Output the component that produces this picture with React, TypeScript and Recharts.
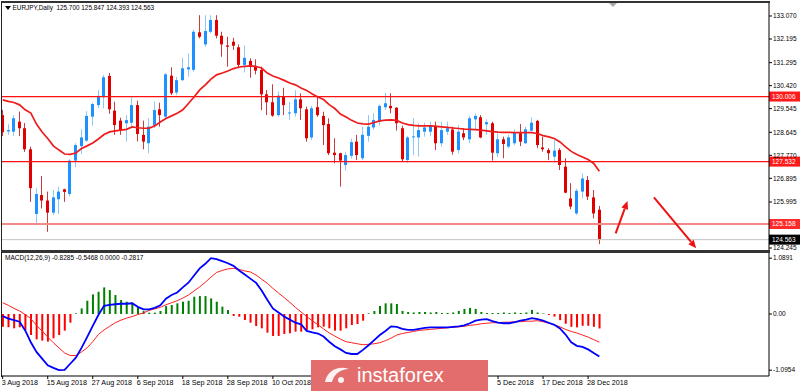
import React from 'react';
import { ComposedChart, Bar, Line, XAxis, YAxis, ReferenceLine, Cell } from 'recharts';

// ---------- DATA ----------
const opens = [129.30,128.68,128.67,129.05,128.80,128.00,125.54,126.26,126.05,125.59,126.10,126.48,126.30,127.57,128.12,128.33,129.24,129.68,129.98,130.79,129.47,129.09,128.99,129.01,129.68,128.55,128.23,128.92,129.52,129.24,130.80,130.16,130.63,131.04,131.02,132.45,131.99,132.47,132.92,132.32,131.95,132.09,131.88,131.21,131.36,131.14,131.02,130.09,129.79,129.30,130.00,129.38,129.37,129.90,129.52,128.45,129.60,129.27,128.96,127.87,127.85,127.40,127.75,128.29,127.66,128.51,128.83,129.05,129.60,129.65,129.58,128.80,127.59,128.47,128.45,128.67,128.67,128.89,128.23,128.67,128.75,127.97,128.61,128.38,129.14,129.22,128.95,128.99,127.85,128.38,128.10,128.23,128.61,128.23,128.71,129.08,128.07,127.97,127.72,127.97,127.34,126.13,125.56,126.39,126.83,126.17,125.700];
const highs = [129.50,128.95,129.30,129.43,129.00,128.10,126.52,126.98,126.39,126.45,126.58,126.50,127.62,128.23,128.76,129.45,129.77,130.25,130.83,130.90,129.81,129.20,129.30,129.98,129.85,129.09,129.18,129.81,129.77,130.90,131.12,130.75,131.48,131.65,132.55,133.10,133.10,133.10,133.10,132.47,132.28,132.24,131.99,131.95,131.46,131.42,131.14,130.25,130.47,130.20,130.34,129.81,130.25,130.13,129.62,129.65,130.03,129.43,129.18,128.42,127.87,127.91,128.40,128.55,128.86,129.30,129.37,129.70,130.15,130.13,129.60,128.90,128.51,129.18,128.99,129.01,129.05,129.05,129.05,129.05,128.86,128.92,128.80,129.27,129.35,129.30,129.14,129.05,128.60,128.48,128.55,128.76,128.96,128.86,129.22,129.12,128.48,128.04,128.35,128.04,127.66,126.71,126.50,127.08,126.98,126.45,125.847];
const lows = [128.50,128.55,128.50,128.50,127.90,126.00,125.12,125.75,124.86,125.50,125.54,126.00,126.20,127.32,127.82,128.28,128.90,129.56,129.56,129.35,128.55,128.55,128.29,128.86,128.30,128.00,127.85,128.80,128.86,129.20,130.06,130.06,130.60,130.76,130.95,132.22,131.90,132.40,132.22,131.52,131.14,131.78,131.08,130.92,130.72,130.85,129.49,129.30,129.24,129.24,129.30,129.11,129.24,129.11,128.29,128.35,129.24,128.16,127.78,127.47,126.58,127.19,127.65,127.59,127.59,128.29,128.75,128.90,129.49,129.37,128.71,127.55,127.49,127.78,127.72,128.48,128.50,127.97,128.10,128.55,127.80,127.85,128.35,128.23,128.73,128.42,128.55,127.57,127.70,127.66,128.04,128.16,128.12,128.20,128.67,128.04,127.91,127.59,127.49,127.21,126.33,125.72,125.50,126.13,126.07,125.37,124.393];
const closes = [128.65,128.73,129.18,128.80,128.00,126.52,126.30,126.05,125.59,126.17,126.39,126.38,127.57,128.16,128.45,129.27,129.72,130.03,130.74,129.52,128.92,128.71,129.11,129.68,128.58,128.29,128.86,129.49,129.30,130.85,130.13,130.63,131.08,131.12,132.47,132.28,132.50,132.92,132.32,131.99,131.90,131.94,131.21,131.48,131.14,130.99,130.09,129.79,129.28,130.04,129.68,129.40,129.90,129.56,128.42,129.56,129.30,128.92,127.85,127.78,127.57,127.78,128.27,127.78,128.55,128.86,129.11,129.65,129.75,129.56,128.99,127.62,128.45,128.49,128.73,128.83,128.92,128.23,128.73,128.80,127.91,128.67,128.45,129.18,129.27,128.45,129.03,127.87,128.38,128.20,128.45,128.63,128.29,128.76,129.01,128.16,128.00,127.85,127.95,127.40,126.35,125.82,126.42,126.89,126.20,125.56,124.563];
const maValues = [129.88,129.82,129.78,129.69,129.50,129.38,128.96,128.66,128.41,128.13,127.97,127.82,127.81,127.86,128.03,128.13,128.24,128.39,128.56,128.66,128.70,128.73,128.76,128.85,128.82,128.80,128.80,128.89,129.04,129.17,129.27,129.37,129.50,129.74,129.99,130.26,130.45,130.67,130.83,130.90,130.98,131.07,131.13,131.15,131.17,131.15,131.09,130.90,130.79,130.71,130.62,130.52,130.45,130.33,130.24,130.10,129.99,129.89,129.70,129.55,129.34,129.23,129.10,129.00,128.97,128.96,129.02,129.08,129.11,129.12,129.10,129.00,128.94,128.91,128.89,128.89,128.89,128.87,128.85,128.83,128.81,128.79,128.77,128.76,128.75,128.73,128.70,128.67,128.65,128.64,128.64,128.63,128.63,128.63,128.63,128.60,128.52,128.47,128.41,128.28,128.09,127.92,127.80,127.71,127.61,127.46,127.16];
const macdMain = [-0.04,-0.09,-0.12,-0.15,-0.32,-0.55,-0.74,-0.87,-1.00,-1.05,-1.0954,-1.09,-0.97,-0.85,-0.66,-0.45,-0.23,-0.02,0.16,0.18,0.19,0.20,0.20,0.21,0.14,0.09,0.09,0.12,0.17,0.30,0.37,0.42,0.52,0.61,0.75,0.89,0.98,1.0891,1.07,1.03,0.99,0.94,0.85,0.77,0.69,0.61,0.46,0.28,0.11,0.03,-0.05,-0.11,-0.17,-0.20,-0.33,-0.36,-0.38,-0.44,-0.54,-0.63,-0.69,-0.76,-0.78,-0.78,-0.70,-0.61,-0.51,-0.41,-0.33,-0.24,-0.25,-0.29,-0.31,-0.31,-0.29,-0.27,-0.26,-0.26,-0.26,-0.26,-0.25,-0.24,-0.22,-0.18,-0.13,-0.11,-0.10,-0.14,-0.17,-0.18,-0.18,-0.16,-0.13,-0.11,-0.08,-0.10,-0.13,-0.17,-0.21,-0.28,-0.40,-0.55,-0.62,-0.64,-0.69,-0.76,-0.8285];
const macdSignal = [0.22,0.17,0.11,0.06,-0.01,-0.09,-0.22,-0.33,-0.45,-0.56,-0.66,-0.76,-0.81,-0.81,-0.74,-0.66,-0.54,-0.40,-0.31,-0.24,-0.17,-0.12,-0.08,-0.05,-0.01,0.02,0.07,0.10,0.13,0.18,0.22,0.26,0.31,0.37,0.45,0.53,0.62,0.72,0.81,0.85,0.88,0.89,0.87,0.84,0.82,0.76,0.68,0.60,0.50,0.41,0.32,0.23,0.13,0.04,-0.05,-0.13,-0.21,-0.29,-0.37,-0.43,-0.49,-0.54,-0.56,-0.58,-0.60,-0.59,-0.58,-0.56,-0.52,-0.47,-0.41,-0.38,-0.36,-0.34,-0.32,-0.31,-0.30,-0.29,-0.28,-0.27,-0.26,-0.25,-0.24,-0.22,-0.21,-0.19,-0.18,-0.17,-0.17,-0.16,-0.16,-0.15,-0.15,-0.14,-0.14,-0.13,-0.15,-0.18,-0.21,-0.25,-0.30,-0.34,-0.37,-0.41,-0.45,-0.50,-0.5468];
const macdHist = [-0.246,-0.259,-0.279,-0.259,-0.311,-0.409,-0.493,-0.519,-0.538,-0.473,-0.409,-0.324,-0.169,0.013,0.110,0.259,0.383,0.434,0.519,0.467,0.370,0.272,0.240,0.220,0.130,0.058,0.026,0.026,0.058,0.156,0.175,0.208,0.240,0.259,0.337,0.350,0.350,0.305,0.240,0.143,0.078,-0.039,-0.052,-0.117,-0.169,-0.233,-0.279,-0.363,-0.428,-0.428,-0.389,-0.376,-0.344,-0.344,-0.311,-0.298,-0.259,-0.246,-0.279,-0.324,-0.324,-0.279,-0.214,-0.195,-0.130,0.013,0.058,0.156,0.208,0.208,0.195,0.06,0.04,0.03,0.04,0.04,0.03,0.04,0.02,0.02,0.03,0.06,0.10,0.12,0.10,0.04,0.02,0.02,0.02,0.03,0.02,0.03,0.02,0.03,0.08,0.03,0.01,-0.02,-0.05,-0.12,-0.19,-0.25,-0.26,-0.23,-0.23,-0.25,-0.2817];

const dateTickIndex = [0, 8, 16, 24, 32, 40, 48, 56, 64, 72, 80, 88, 96, 104];
// labels hidden behind the watermark in the reference are left empty
const dateTickLabels = ['3 Aug 2018','15 Aug 2018','27 Aug 2018','6 Sep 2018','18 Sep 2018','28 Sep 2018','10 Oct 2018','','','','','5 Dec 2018','17 Dec 2018','28 Dec 2018'];
const priceTicks = [133.070, 132.195, 131.295, 130.420, 129.545, 128.645, 127.770, 126.895, 125.995, 124.245];
const levelPrices = [130.006, 127.532];
const supportPrice = 125.158;
const lastPrice = 124.563;
const macdTicks = [1.0891, 0, -1.0954];
const macdTickLabels = ['1.0891', '0.00', '-1.0954'];
// arrows: [fromIndex, fromPrice, toIndex, toPrice]
const arrowSegments = [[108.9, 124.80, 111.0, 126.03], [115.7, 126.17, 123.2, 124.24]];
const headerText = 'EURJPY,Daily  125.700 125.847 124.393 124.563';
const macdText = 'MACD(12,26,9) -0.8285 -0.5468 0.0000 -0.2817';
const watermarkText = 'instaforex';

// ---------- tables ----------
const candleData = opens.map((o, i) => ({
  idx: i, open: o, high: highs[i], low: lows[i], close: closes[i],
  range: [lows[i], highs[i]], ma: maValues[i],
}));
const macdData = macdMain.map((m, i) => ({ idx: i, main: m, signal: macdSignal[i], hist: macdHist[i] }));

const X_DOMAIN: [number, number] = [-0.124, 136.14];
const FONT = 'Liberation Sans, Arial, sans-serif';
const BULL_BODY = '#1e90ff';
const BULL_WICK = '#8cc8f8';
const BEAR_BODY = '#e00000';
const BEAR_WICK = '#c83c3c';

const Candle = (props: any) => {
  const { x, y, width, height, payload } = props;
  if (payload == null || height == null) return null;
  const { open, close, high, low } = payload;
  const span = high - low || 1;
  const py = (p: number) => y + ((high - p) / span) * height;
  const bull = close >= open;
  const c = Math.floor(x + width / 2);
  const top = py(Math.max(open, close));
  const bot = py(Math.min(open, close));
  return (
    <g>
      <line x1={c + 0.5} x2={c + 0.5} y1={y} y2={y + height} stroke={bull ? BULL_WICK : BEAR_WICK} strokeWidth={1} />
      <rect x={c - 1} y={top} width={3} height={Math.max(1, bot - top)} fill={bull ? BULL_BODY : BEAR_BODY} />
    </g>
  );
};

const PriceTag = (props: any) => {
  const { viewBox, text, bg } = props;
  if (!viewBox) return null;
  const { x, y, width } = viewBox;
  const left = x + width;
  return (
    <g>
      <rect x={left} y={y - 5} width={31} height={10} fill={bg} />
      <text x={left + 3} y={y + 2.4} fill="#fff" fontSize={6.5} fontFamily={FONT}>{text}</text>
    </g>
  );
};

const Arrow = (props: any) => {
  const { x1, y1, x2, y2 } = props;
  if ([x1, y1, x2, y2].some((v) => v == null || isNaN(v))) return null;
  const ang = Math.atan2(y2 - y1, x2 - x1);
  const L = 8, W = 3.5;
  const bx = x2 - L * Math.cos(ang), by = y2 - L * Math.sin(ang);
  const p1 = `${bx + W * Math.sin(ang)},${by - W * Math.cos(ang)}`;
  const p2 = `${bx - W * Math.sin(ang)},${by + W * Math.cos(ang)}`;
  return (
    <g>
      <line x1={x1} y1={y1} x2={bx} y2={by} stroke="#ee1111" strokeWidth={2} />
      <polygon points={`${x2},${y2} ${p1} ${p2}`} fill="#ee1111" />
    </g>
  );
};

const DateTick = (props: any) => {
  const { x, y, payload } = props;
  const k = dateTickIndex.indexOf(payload.value);
  const label = k >= 0 ? dateTickLabels[k] : '';
  if (!label) return null;
  return (
    <text x={x - 1} y={y + 6} textAnchor="start" fontSize={7.2} fontFamily={FONT} fill="#000">
      {label}
    </text>
  );
};

export default function App() {
  return (
    <div style={{ position: 'absolute', left: 0, top: 0, width: 800, height: 391, background: '#fff', overflow: 'hidden' }}>
      <div style={{ position: 'absolute', left: 0, top: 0 }}>
        <ComposedChart width={800} height={253} data={candleData} margin={{ top: 2, right: 0, left: 2, bottom: 2 }}>
          <XAxis dataKey="idx" type="number" domain={X_DOMAIN} allowDataOverflow hide />
          <YAxis
            orientation="right"
            width={31}
            domain={[124.131, 133.602]}
            allowDataOverflow
            ticks={priceTicks}
            tickFormatter={(v: number) => v.toFixed(3)}
            tick={{ fontSize: 6.5, fill: '#000', fontFamily: FONT }}
            tickSize={3}
            tickMargin={1}
            stroke="#000"
            interval={0}
          />
          {levelPrices.map((p) => (
            <ReferenceLine key={p} y={p} stroke="#ff1010" strokeWidth={1.2}
              label={{ content: (lp: any) => <PriceTag {...lp} text={p.toFixed(3)} bg="#ff1a1a" /> }} />
          ))}
          <ReferenceLine y={supportPrice} stroke="#f28a8a" strokeWidth={2}
            label={{ content: (lp: any) => <PriceTag {...lp} text={supportPrice.toFixed(3)} bg="#ff2a2a" /> }} />
          <ReferenceLine y={lastPrice} stroke="#c4c4c4" strokeWidth={1}
            label={{ content: (lp: any) => <PriceTag {...lp} text={lastPrice.toFixed(3)} bg="#000" /> }} />
          <Bar dataKey="range" barSize={3} shape={<Candle />} isAnimationActive={false} />
          <Line dataKey="ma" type="linear" stroke="#ee1c1c" strokeWidth={1.7} dot={false} isAnimationActive={false} />
          {arrowSegments.map((s, k) => (
            <ReferenceLine key={'a' + k} segment={[{ x: s[0], y: s[1] }, { x: s[2], y: s[3] }]} shape={<Arrow />} ifOverflow="visible" />
          ))}
        </ComposedChart>
      </div>
      <div style={{ position: 'absolute', left: 0, top: 253 }}>
        <ComposedChart width={800} height={138} data={macdData} margin={{ top: 0, right: 0, left: 2, bottom: 0 }}>
          <XAxis
            dataKey="idx"
            type="number"
            domain={X_DOMAIN}
            allowDataOverflow
            ticks={dateTickIndex}
            interval={0}
            tick={<DateTick />}
            tickSize={3}
            tickMargin={0}
            height={15}
            stroke="#000"
          />
          <YAxis
            orientation="right"
            width={31}
            domain={[-1.209, 1.19]}
            allowDataOverflow
            ticks={macdTicks}
            interval={0}
            tickFormatter={(v: number) => macdTickLabels[macdTicks.indexOf(v)] ?? ''}
            tick={{ fontSize: 6.5, fill: '#000', fontFamily: FONT }}
            tickSize={3}
            tickMargin={1}
            stroke="#000"
          />
          <Bar dataKey="hist" barSize={2} isAnimationActive={false}>
            {macdData.map((d) => (
              <Cell key={d.idx} fill={d.hist >= 0 ? '#008000' : '#ff0000'} />
            ))}
          </Bar>
          <Line dataKey="signal" type="linear" stroke="#ff2020" strokeWidth={1} dot={false} isAnimationActive={false} />
          <Line dataKey="main" type="linear" stroke="#0000ff" strokeWidth={1.8} dot={false} isAnimationActive={false} />
        </ComposedChart>
      </div>
      {/* panel frames */}
      <div style={{ position: 'absolute', left: 1, top: 1, width: 769, height: 251, boxSizing: 'border-box', borderLeft: '1px solid #222', borderTop: '2px solid #333', borderBottom: '2px solid #333', pointerEvents: 'none' }} />
      <div style={{ position: 'absolute', left: 1, top: 252, width: 769, height: 125, boxSizing: 'border-box', borderLeft: '1px solid #222', borderTop: '1px solid #333', pointerEvents: 'none' }} />
      {/* header texts */}
      <svg width={12} height={12} style={{ position: 'absolute', left: 4, top: 4 }}>
        <polygon points="1,2 7,2 4,6" fill="#000" />
      </svg>
      <div style={{ position: 'absolute', left: 12.5, top: 4.5, fontFamily: FONT, fontSize: 6.4, lineHeight: 1, whiteSpace: 'pre', color: '#000' }}>{headerText}</div>
      <div style={{ position: 'absolute', left: 5, top: 255, fontFamily: FONT, fontSize: 6.5, lineHeight: 1, whiteSpace: 'pre', color: '#000' }}>{macdText}</div>
      <svg width={10} height={8} style={{ position: 'absolute', left: 608, top: 2 }}>
        <polygon points="1,1 9,1 5,5" fill="#a8a8a8" />
      </svg>
      {/* watermark */}
      <div style={{ position: 'absolute', left: 311, top: 360, width: 177, height: 31, background: '#e36d6d' }}>
        <svg width={40} height={31} style={{ position: 'absolute', left: 8, top: 0 }}>
          <path d="M6,22 C8,10 20,5 30,9 C22,9 15,14 13,22 Z" fill="#fff" opacity={0.9} />
          <circle cx={22} cy={20} r={3} fill="#fff" opacity={0.9} />
        </svg>
        <div style={{ position: 'absolute', left: 46, top: 5, fontFamily: FONT, fontSize: 20, lineHeight: 1, color: '#fff', whiteSpace: 'nowrap' }}>{watermarkText}</div>
      </div>
    </div>
  );
}
